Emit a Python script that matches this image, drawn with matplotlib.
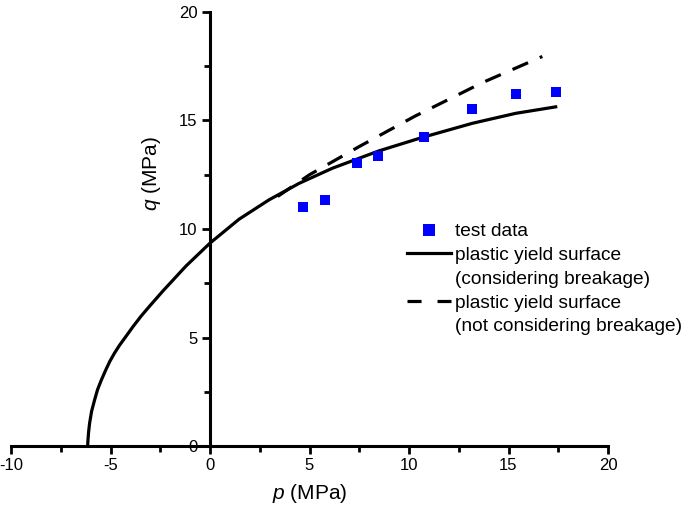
import matplotlib
matplotlib.use("Agg")
import matplotlib.pyplot as plt
from matplotlib.lines import Line2D
import numpy as np

plt.rcParams['font.family'] = ['Liberation Sans', 'DejaVu Sans']
plt.rcParams['mathtext.fontset'] = 'custom'
plt.rcParams['mathtext.rm'] = 'Liberation Sans'
plt.rcParams['mathtext.it'] = 'Liberation Sans:italic'

# test data
p_test = [4.69, 5.78, 7.37, 8.46, 10.75, 13.18, 15.36, 17.4]
q_test = [11.03, 11.34, 13.06, 13.38, 14.22, 15.54, 16.2, 16.33]

# plastic yield surface (considering breakage)
p_solid = [-6.15, -6.13, -6.1, -6.05, -5.95, -5.80, -5.65, -5.46, -5.25, -5.04,
           -4.8, -4.54, -4.2, -3.87, -3.45, -3.03, -2.36, -1.2, 0.0, 1.46, 2.96,
           4.47, 6.15, 8.49, 10.67, 13.18, 15.36, 17.45]
q_solid = [0.0, 0.3, 0.65, 1.05, 1.6, 2.12, 2.6, 3.04, 3.48, 3.89,
           4.28, 4.65, 5.08, 5.5, 6.0, 6.45, 7.15, 8.3, 9.35, 10.45, 11.34,
           12.1, 12.8, 13.6, 14.22, 14.87, 15.33, 15.64]

# plastic yield surface (not considering breakage)
p_dash = [3.4, 5.0, 7.5, 10.3, 13.7, 16.7]
q_dash = [11.5, 12.5, 13.8, 15.2, 16.75, 17.95]

x_ticks = [-10, -5, 0, 5, 10, 15, 20]
x_ticklabels = ['-10', '-5', '0', '5', '10', '15', '20']
y_ticks = [0, 5, 10, 15, 20]
y_ticklabels = ['0', '5', '10', '15', '20']

fig = plt.figure(figsize=(6.85, 5.17), dpi=100)
ax = fig.add_axes([11/685, 1-446/517, (608-11)/685, (446-12)/517])

ax.plot(p_solid, q_solid, color='black', lw=2.3, solid_capstyle='butt', solid_joinstyle='round')
ax.plot(p_dash, q_dash, color='black', lw=2.3, linestyle=(0, (5.3, 4.0)), dash_capstyle='butt')
ax.plot(p_test, q_test, linestyle='none', marker='s', markersize=7.5,
        color='#0000ff', markeredgewidth=0)

ax.set_xlim(-10, 20)
ax.set_ylim(0, 20)
ax.spines['left'].set_position(('data', 0))
ax.spines['top'].set_visible(False)
ax.spines['right'].set_visible(False)
for s in ['left', 'bottom']:
    ax.spines[s].set_linewidth(2.2)

ax.set_xticks(x_ticks)
ax.set_xticklabels(x_ticklabels)
ax.set_yticks(y_ticks)
ax.set_yticklabels(y_ticklabels)
ax.set_xticks(np.arange(-7.5, 20, 5), minor=True)
ax.set_yticks(np.arange(2.5, 20, 5), minor=True)
ax.tick_params(which='major', direction='out', length=6, width=2.0, labelsize=12, pad=3)
ax.tick_params(which='minor', direction='out', length=4, width=2.0)

ax.set_xlabel(r'$p$ (MPa)', fontsize=15)
ax.xaxis.set_label_coords(0.5, -0.082)
ax.set_ylabel(r'$q$ (MPa)', fontsize=15)
ax.yaxis.set_label_coords((163-11)/(608-11), (446-174)/(446-12))

handles = [
    Line2D([], [], linestyle='none', marker='s', markersize=8, color='#0000ff', markeredgewidth=0),
    Line2D([], [], color='black', lw=2.3),
    Line2D([], [], color='none', lw=0),
    Line2D([], [], color='black', lw=2.3, linestyle=(0, (4.4, 5.0))),
    Line2D([], [], color='none', lw=0),
]
labels = ['test data', 'plastic yield surface', '(considering breakage)',
          'plastic yield surface', '(not considering breakage)']
leg = fig.legend(handles, labels, loc='upper left', bbox_to_anchor=(407/685, 1-223/517),
                 bbox_transform=fig.transFigure, frameon=False, fontsize=13.8,
                 handlelength=2.3, handletextpad=0.2, labelspacing=0.33,
                 borderpad=0, borderaxespad=0)

fig.savefig('out.png', dpi=100)
